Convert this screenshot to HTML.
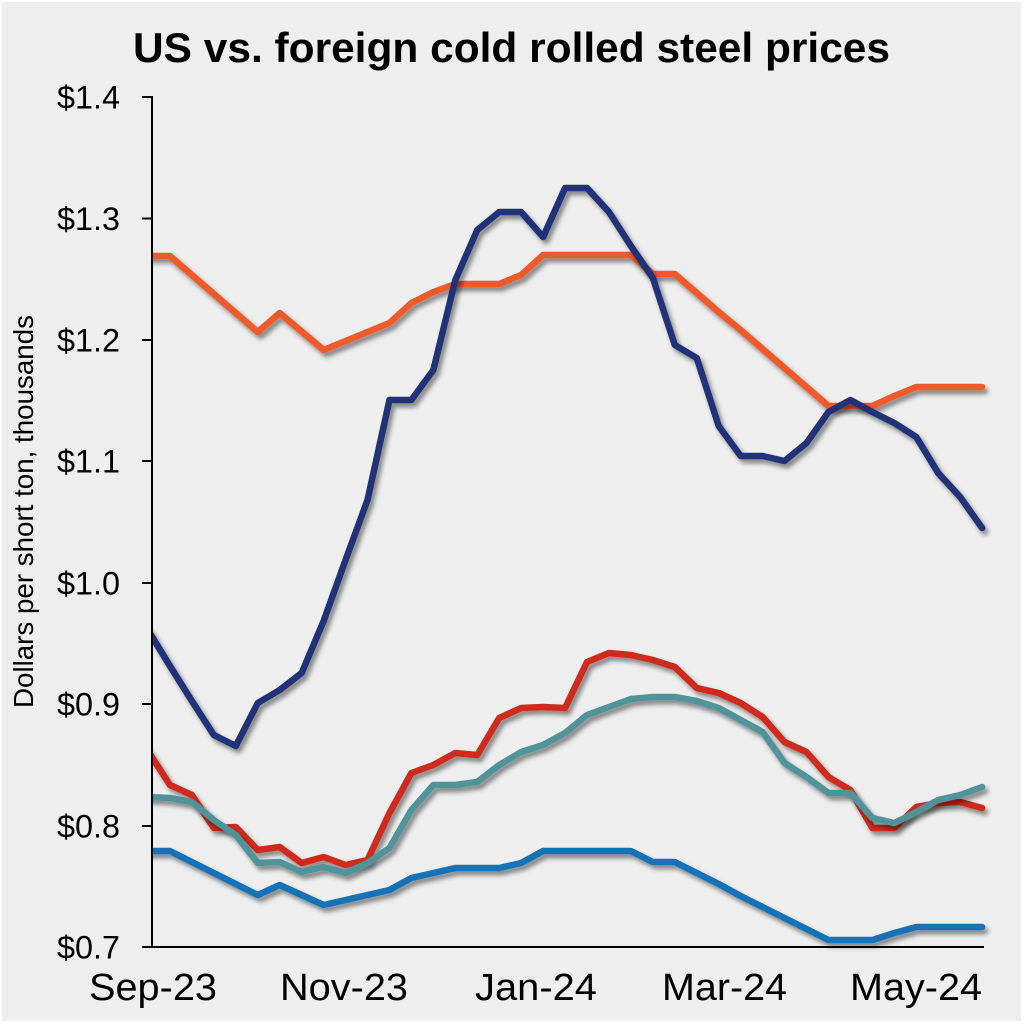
<!DOCTYPE html>
<html>
<head>
<meta charset="utf-8">
<style>
html,body{margin:0;padding:0;background:#ffffff;}
svg{display:block;}
</style>
</head>
<body>
<svg width="1024" height="1024" viewBox="0 0 1024 1024" xmlns="http://www.w3.org/2000/svg">
  <defs>
    <filter id="sh" x="-10%" y="-10%" width="120%" height="130%">
      <feDropShadow dx="3" dy="4" stdDeviation="2.5" flood-color="#000" flood-opacity="0.45"/>
    </filter>
    <clipPath id="cp">
      <rect x="152" y="80" width="860" height="880"/>
    </clipPath>
  </defs>
  <rect x="0" y="0" width="1024" height="1024" fill="#ffffff"/>
  <rect x="2" y="2" width="1019" height="1019" fill="#eeeeee"/>

  <text x="133" y="62" font-family="'Liberation Sans', Arial, sans-serif" font-weight="bold" font-size="42" fill="#000" textLength="757" lengthAdjust="spacingAndGlyphs">US vs. foreign cold rolled steel prices</text>

  <g font-family="'Liberation Sans', Arial, sans-serif" font-size="32" fill="#000" text-anchor="end">
    <text x="120" y="108.5" textLength="63" lengthAdjust="spacingAndGlyphs">$1.4</text>
    <text x="120" y="230" textLength="63" lengthAdjust="spacingAndGlyphs">$1.3</text>
    <text x="120" y="351.5" textLength="63" lengthAdjust="spacingAndGlyphs">$1.2</text>
    <text x="120" y="472.5" textLength="63" lengthAdjust="spacingAndGlyphs">$1.1</text>
    <text x="120" y="594.5" textLength="63" lengthAdjust="spacingAndGlyphs">$1.0</text>
    <text x="120" y="715.5" textLength="63" lengthAdjust="spacingAndGlyphs">$0.9</text>
    <text x="120" y="837.5" textLength="63" lengthAdjust="spacingAndGlyphs">$0.8</text>
    <text x="120" y="958.5" textLength="63" lengthAdjust="spacingAndGlyphs">$0.7</text>
  </g>

  <text transform="translate(33,511.5) rotate(-90)" x="0" y="0" text-anchor="middle" font-family="'Liberation Sans', Arial, sans-serif" font-size="28" fill="#000" textLength="393" lengthAdjust="spacingAndGlyphs">Dollars per short ton, thousands</text>

  <g font-family="'Liberation Sans', Arial, sans-serif" font-size="38" fill="#000" text-anchor="middle">
    <text x="153" y="1000" textLength="128" lengthAdjust="spacingAndGlyphs">Sep-23</text>
    <text x="344" y="1000" textLength="128" lengthAdjust="spacingAndGlyphs">Nov-23</text>
    <text x="536" y="1000" textLength="122" lengthAdjust="spacingAndGlyphs">Jan-24</text>
    <text x="724.5" y="1000" textLength="125" lengthAdjust="spacingAndGlyphs">Mar-24</text>
    <text x="916" y="1000" textLength="132" lengthAdjust="spacingAndGlyphs">May-24</text>
  </g>

  <g clip-path="url(#cp)" fill="none" stroke-width="6.5" stroke-linejoin="round" stroke-linecap="round">
    <!-- orange -->
    <polyline filter="url(#sh)" stroke="#ef5a2a" points="148,256 169.95,256 191.9,275 213.85,294 235.8,313 257.75,332 279.7,313 301.65,331.5 323.6,350 345.55,341 367.5,332 389.45,323 411.4,303 433.35,292 455.3,284 477.25,284 499.2,284 521.15,275 543.1,255 565.05,255 587,255 608.95,255 630.9,255 652.85,274 674.8,274 696.75,293 718.7,312 740.65,330 762.6,349 784.55,368 806.5,387 828.45,406 850.4,406 872.35,406 894.3,396 916.25,387 938.2,387 960.15,387 982.1,387"/>
    <!-- navy -->
    <polyline filter="url(#sh)" stroke="#213378" points="148,630 169.95,666 191.9,701 213.85,735 235.8,746 257.75,703 279.7,690 301.65,673 323.6,621 345.55,560 367.5,500 389.45,400 411.4,400 433.35,370 455.3,280 477.25,230 499.2,212 521.15,212 543.1,237 565.05,188 587,188 608.95,212 630.9,246 652.85,278 674.8,345 696.75,358 718.7,426 740.65,456 762.6,456 784.55,461 806.5,443 828.45,412 850.4,400 872.35,412 894.3,423 916.25,437 938.2,473 960.15,497 982.1,528"/>
    <!-- blue -->
    <polyline filter="url(#sh)" stroke="#1872b7" points="148,851 169.95,851 191.9,862 213.85,873 235.8,884 257.75,895 279.7,885 301.65,895 323.6,905 345.55,900 367.5,895 389.45,890 411.4,878 433.35,873 455.3,868 477.25,868 499.2,868 521.15,863 543.1,851 565.05,851 587,851 608.95,851 630.9,851 652.85,862 674.8,862 696.75,873 718.7,884 740.65,896 762.6,907 784.55,918 806.5,929 828.45,940 850.4,940 872.35,940 894.3,933 916.25,927 938.2,927 960.15,927 982.1,927"/>
    <!-- red -->
    <polyline filter="url(#sh)" stroke="#cf2c1f" points="148,751 169.95,785 191.9,795 213.85,828 235.8,827 257.75,850 279.7,847 301.65,863 323.6,857 345.55,865 367.5,860 389.45,813 411.4,773 433.35,765 455.3,753 477.25,755 499.2,718 521.15,708 543.1,707 565.05,708 587,662 608.95,653 630.9,655 652.85,660 674.8,667 696.75,688 718.7,693 740.65,703 762.6,717 784.55,742 806.5,752 828.45,777 850.4,790 872.35,828 894.3,828 916.25,807 938.2,803 960.15,802 982.1,808"/>
    <!-- teal -->
    <polyline filter="url(#sh)" stroke="#51939a" points="148,797 169.95,798 191.9,802 213.85,820 235.8,835 257.75,863 279.7,862 301.65,872 323.6,867 345.55,873 367.5,863 389.45,848 411.4,810 433.35,785 455.3,785 477.25,782 499.2,765 521.15,752 543.1,745 565.05,733 587,715 608.95,707 630.9,699 652.85,697 674.8,697 696.75,701 718.7,708 740.65,720 762.6,732 784.55,763 806.5,777 828.45,793 850.4,793 872.35,818 894.3,823 916.25,812 938.2,800 960.15,795 982.1,787"/>
  </g>

  <g stroke="#000" stroke-width="2" fill="none">
    <line x1="152" y1="96" x2="152" y2="948"/>
    <line x1="142" y1="947" x2="984" y2="947"/>
    <line x1="142" y1="97" x2="152" y2="97"/>
    <line x1="142" y1="218.5" x2="152" y2="218.5"/>
    <line x1="142" y1="340" x2="152" y2="340"/>
    <line x1="142" y1="461" x2="152" y2="461"/>
    <line x1="142" y1="583" x2="152" y2="583"/>
    <line x1="142" y1="704" x2="152" y2="704"/>
    <line x1="142" y1="826" x2="152" y2="826"/>
  </g>
</svg>
</body>
</html>
